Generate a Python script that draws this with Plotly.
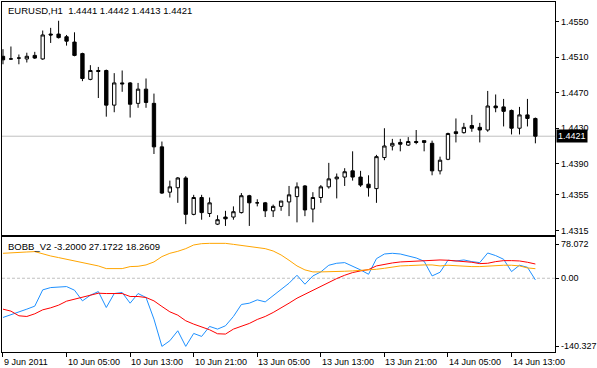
import plotly.graph_objects as go

# ---------------- data (EURUSD H1) ----------------
open_ = [1.4511, 1.4508, 1.4509, 1.4508, 1.4512, 1.4508, 1.4536, 1.4536, 1.4533, 1.4527,
         1.4514, 1.4485, 1.4495, 1.4495, 1.4456, 1.4481, 1.4481, 1.4458, 1.4474, 1.4458,
         1.4409, 1.4358, 1.4363, 1.4374, 1.4333, 1.4352, 1.4334, 1.4322, 1.4330, 1.4330,
         1.4335, 1.4354, 1.4346, 1.4346, 1.4337, 1.4342, 1.4347, 1.4353, 1.4365, 1.4339,
         1.4352, 1.4364, 1.4373, 1.4375, 1.4382, 1.4375, 1.4367, 1.4362, 1.4397, 1.4410,
         1.4414, 1.4411, 1.4415, 1.4416, 1.4413, 1.4382, 1.4395, 1.4426, 1.4425, 1.4433,
         1.4431, 1.4428, 1.4455, 1.4454, 1.4450, 1.4430, 1.4445, 1.4441]
high = [1.4519, 1.4522, 1.4513, 1.4515, 1.4516, 1.4540, 1.4543, 1.4551, 1.4535, 1.4538,
        1.4515, 1.4501, 1.4499, 1.4496, 1.4492, 1.4495, 1.4482, 1.4481, 1.4486, 1.4469,
        1.4415, 1.4371, 1.4375, 1.4376, 1.4355, 1.4355, 1.4352, 1.4332, 1.4337, 1.4342,
        1.4357, 1.4355, 1.4350, 1.4347, 1.4344, 1.4348, 1.4365, 1.4369, 1.4366, 1.4358,
        1.4366, 1.4391, 1.4379, 1.4385, 1.4404, 1.4382, 1.4377, 1.4400, 1.4430, 1.4418,
        1.4418, 1.4420, 1.4428, 1.4416, 1.4416, 1.4398, 1.4425, 1.4441, 1.4436, 1.4445,
        1.4436, 1.4472, 1.4468, 1.4463, 1.4451, 1.4454, 1.4463, 1.4442]
low = [1.4502, 1.4507, 1.4502, 1.4504, 1.4508, 1.4507, 1.4526, 1.4531, 1.4523, 1.4511,
       1.4483, 1.4484, 1.4464, 1.4443, 1.4448, 1.4471, 1.4442, 1.4453, 1.4453, 1.4401,
       1.4356, 1.4352, 1.4346, 1.4322, 1.4332, 1.4327, 1.4330, 1.4321, 1.4320, 1.4327,
       1.4334, 1.4320, 1.4342, 1.4330, 1.4330, 1.4337, 1.4331, 1.4324, 1.4331, 1.4324,
       1.4346, 1.4362, 1.4351, 1.4365, 1.4371, 1.4364, 1.4353, 1.4346, 1.4394, 1.4405,
       1.4404, 1.4410, 1.4412, 1.4404, 1.4377, 1.4378, 1.4394, 1.4414, 1.4424, 1.4426,
       1.4414, 1.4426, 1.4448, 1.4432, 1.4423, 1.4423, 1.4432, 1.4413]
close = [1.4507, 1.4508, 1.4509, 1.4511, 1.4509, 1.4535, 1.4535, 1.4532, 1.4528, 1.4512,
         1.4486, 1.4495, 1.4494, 1.4456, 1.4481, 1.4480, 1.4457, 1.4474, 1.4459, 1.4409,
         1.4357, 1.4364, 1.4374, 1.4333, 1.4352, 1.4335, 1.4346, 1.4327, 1.4328, 1.4336,
         1.4354, 1.4346, 1.4346, 1.4337, 1.4342, 1.4348, 1.4355, 1.4364, 1.4338, 1.4352,
         1.4364, 1.4373, 1.4375, 1.4381, 1.4375, 1.4366, 1.4363, 1.4398, 1.4410, 1.4413,
         1.4412, 1.4415, 1.4414, 1.4414, 1.4382, 1.4394, 1.4424, 1.4424, 1.4431, 1.4430,
         1.4428, 1.4455, 1.4453, 1.4449, 1.4430, 1.4445, 1.4441, 1.4421]

# BOBB_V2 indicator buffers
bobb_blue = [-74.9, -69.8, -65.4, -59.0, -53.3, -22.2, -17.8, -17.1, -15.9, -22.8,
             -43.2, -32.4, -25.4, -55.9, -29.2, -27.3, -47.6, -29.2, -36.8, -78.1,
             -130.1, -119.3, -100.3, -130.1, -105.4, -111.1, -92.0, -97.1, -90.8, -73.0,
             -50.1, -47.6, -41.3, -45.1, -33.6, -21.6, -9.5, 5.7, -11.4, 4.4,
             12.1, 24.8, 28.6, 29.8, 23.5, 15.9, 7.6, 37.4, 46.3, 47.6,
             46.3, 42.5, 38.7, 32.4, 4.4, 11.4, 34.3, 33.0, 34.9, 31.7,
             29.8, 48.2, 43.2, 36.2, 12.7, 24.8, 20.9, -3.2]
bobb_red = [-59.0, -62.8, -71.7, -73.0, -67.9, -60.3, -56.5, -51.4, -43.8, -40.0,
            -36.8, -32.4, -28.6, -29.2, -29.2, -29.2, -34.9, -34.9, -36.8, -43.2,
            -53.9, -64.1, -70.5, -81.2, -87.6, -92.7, -98.4, -106.0, -106.6, -97.1,
            -91.4, -86.3, -78.7, -73.0, -65.4, -57.1, -47.6, -38.1, -30.5, -24.1,
            -16.5, -8.9, -0.6, 5.7, 10.8, 14.0, 16.5, 23.5, 26.7, 29.2,
            31.1, 31.7, 33.0, 34.3, 34.9, 34.9, 34.3, 33.0, 32.4, 30.5,
            27.9, 28.6, 31.7, 33.6, 33.6, 33.0, 30.5, 27.1722]
bobb_orange = [47.6, 48.9, 50.1, 50.1, 50.8, 46.3, 42.5, 39.4, 36.2, 33.6,
               31.1, 27.3, 23.5, 18.4, 18.4, 18.4, 22.2, 22.8, 25.4, 31.1,
               41.3, 47.6, 51.4, 56.5, 63.5, 66.0, 66.6, 66.6, 66.6, 64.7,
               62.8, 60.9, 59.0, 56.5, 52.0, 44.4, 34.3, 23.5, 15.9, 12.1,
               12.1, 12.1, 12.7, 13.3, 14.0, 14.6, 15.9, 17.1, 19.0, 21.6,
               23.5, 24.1, 25.4, 25.4, 25.4, 23.5, 24.8, 23.5, 22.2, 22.2,
               22.2, 23.5, 24.8, 24.8, 24.8, 23.5, 19.7, 18.2609]

price_ticks = [1.4550, 1.4510, 1.4470, 1.4430, 1.4390, 1.4355, 1.4315]
time_tick_bars = [0, 8, 16, 24, 32, 40, 48, 56, 64]
time_tick_labels = ["9 Jun 2011", "10 Jun 05:00", "10 Jun 13:00", "10 Jun 21:00",
                    "13 Jun 05:00", "13 Jun 13:00", "13 Jun 21:00", "14 Jun 05:00",
                    "14 Jun 13:00"]
ind_tick_pos = [65.3, 0.0, -130.0]
ind_tick_labels = ["78.072", "0.00", "-140.327"]
ind_min, ind_max = -140.327, 78.072
last_price = close[-1]

title_main = "EURUSD,H1  {:.4f} {:.4f} {:.4f} {:.4f}".format(open_[-1], high[-1], low[-1], close[-1])
title_ind = "BOBB_V2 {:.4f} {:.4f} {:.4f}".format(bobb_blue[-1], bobb_red[-1], bobb_orange[-1])

bars = list(range(len(close)))

# ---------------- figure ----------------
W, H = 597, 368
FONT = "Liberation Sans, Arial, sans-serif"

def px_x(p):
    return p / W

def px_y(p):
    return 1 - p / H

fig = go.Figure()
fig.add_trace(go.Candlestick(
    x=bars, open=open_, high=high, low=low, close=close,
    xaxis="x", yaxis="y",
    increasing=dict(line=dict(color="black", width=1), fillcolor="white"),
    decreasing=dict(line=dict(color="black", width=1), fillcolor="black"),
    whiskerwidth=0, hoverinfo="skip", showlegend=False,
))
for vals, col in [(bobb_blue, "#1E90FF"), (bobb_red, "#FF0000"), (bobb_orange, "#FFA500")]:
    fig.add_trace(go.Scatter(x=bars, y=vals, xaxis="x2", yaxis="y2", mode="lines",
                             line=dict(color=col, width=1), hoverinfo="skip",
                             showlegend=False))

xdom = [px_x(2), px_x(559)]
xrange_ = [-0.125, 69.5]
axis_common = dict(showgrid=False, zeroline=False, showline=True, mirror=True,
                   linecolor="black", linewidth=1)

fig.update_layout(
    width=W, height=H, margin=dict(l=0, r=0, t=0, b=0),
    paper_bgcolor="white", plot_bgcolor="white", showlegend=False,
    boxgap=0.4,
    font=dict(family=FONT, size=9, color="black"),
    xaxis=dict(domain=xdom, range=xrange_, anchor="y", showticklabels=False, ticks="",
               rangeslider=dict(visible=False), **axis_common),
    yaxis=dict(domain=[px_y(235.5), px_y(2)], range=[1.430994, 1.457212], anchor="x",
               side="right", tickvals=price_ticks,
               ticktext=["{:.4f}".format(v) for v in price_ticks],
               ticks="outside", ticklen=3, tickcolor="black",
               tickfont=dict(family=FONT, size=9, color="black"), **axis_common),
    xaxis2=dict(domain=xdom, range=xrange_, anchor="y2", showticklabels=False,
                tickvals=time_tick_bars, ticks="outside", ticklen=4, tickcolor="black",
                **axis_common),
    yaxis2=dict(domain=[px_y(352.7), px_y(237.5)], range=[ind_min, 79.0], anchor="x2",
                side="right", tickvals=ind_tick_pos, ticktext=ind_tick_labels,
                ticks="outside", ticklen=3, tickcolor="black",
                tickfont=dict(family=FONT, size=9, color="black"), **axis_common),
)

shapes = [
    dict(type="line", xref="x", yref="y", x0=xrange_[0], x1=xrange_[1],
         y0=last_price, y1=last_price, line=dict(color="#C0C0C0", width=1), layer="below"),
    dict(type="line", xref="x2", yref="y2", x0=xrange_[0], x1=xrange_[1],
         y0=0, y1=0, line=dict(color="#C0C0C0", width=1, dash="3px,2px"), layer="below"),
]
fig.update_layout(shapes=shapes)

ann = [
    dict(xref="paper", yref="paper", x=px_x(6), y=px_y(11), xanchor="left", yanchor="middle",
         text=title_main, showarrow=False, font=dict(family=FONT, size=9.5, color="black")),
    dict(xref="paper", yref="paper", x=px_x(6), y=px_y(246.7), xanchor="left", yanchor="middle",
         text=title_ind, showarrow=False, font=dict(family=FONT, size=9.5, color="black")),
    dict(xref="paper", yref="y", x=px_x(559.5), y=last_price, xanchor="left", yanchor="middle",
         text="{:.4f}".format(last_price), showarrow=False, bgcolor="black", borderpad=1,
         font=dict(family=FONT, size=9, color="white")),
]
for b, lab in zip(time_tick_bars, time_tick_labels):
    ann.append(dict(xref="x2", yref="paper", x=b, y=px_y(362.5), xanchor="left",
                    yanchor="middle", text=lab, showarrow=False, xshift=-1,
                    font=dict(family=FONT, size=9, color="black")))
fig.update_layout(annotations=ann)

fig.write_html("out.html", config={"displayModeBar": False},
               post_script="document.body.style.margin='0';document.body.style.padding='0';")
